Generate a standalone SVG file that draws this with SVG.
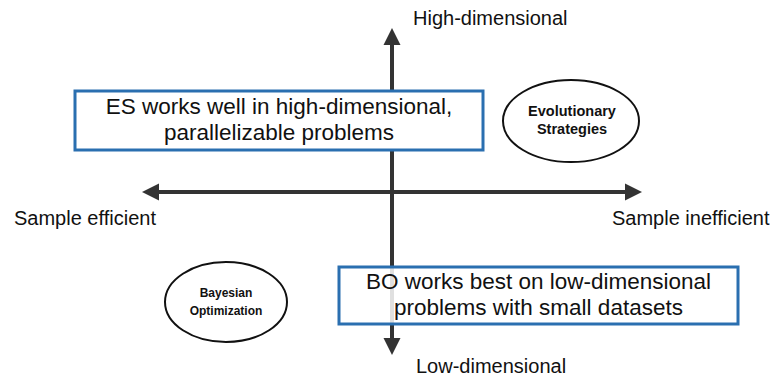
<svg xmlns="http://www.w3.org/2000/svg" width="771" height="383" viewBox="0 0 771 383">
<style>
.axis{stroke:#333;stroke-width:4;fill:none}
.head{fill:#333}
.lbl{font-family:"Liberation Sans",Arial,sans-serif;font-size:20px;fill:#111}
.box{fill:#fff;stroke:#2a6fb0;stroke-width:3}
.btxt{font-family:"Liberation Sans",Arial,sans-serif;font-size:22.5px;fill:#111;text-anchor:middle}
.ell{fill:#fff;stroke:#111;stroke-width:2}
.etxt{font-family:"Liberation Sans",Arial,sans-serif;font-weight:bold;fill:#111;text-anchor:middle}
</style>
<rect width="771" height="383" fill="#fff"/>
<g id="connectors">
<line class="axis" x1="392" y1="42" x2="392" y2="342"/>
<polygon class="head" points="392,28 383.5,45 400.5,45"/>
<polygon class="head" points="392,355 383.5,338 400.5,338"/>
<line class="axis" x1="156" y1="192" x2="628" y2="192"/>
<polygon class="head" points="142,192 159,183.5 159,200.5"/>
<polygon class="head" points="642,192 625,183.5 625,200.5"/>
</g>
<g id="label-high"><text class="lbl" x="413" y="25">High-dimensional</text></g>
<g id="label-low"><text class="lbl" x="416" y="373">Low-dimensional</text></g>
<g id="label-efficient"><text class="lbl" x="14" y="225">Sample efficient</text></g>
<g id="label-inefficient"><text class="lbl" x="612" y="225">Sample inefficient</text></g>
<g id="es-box">
<rect class="box" x="75" y="91" width="408" height="59"/>
<text class="btxt" x="279" y="114">ES works well in high-dimensional,</text>
<text class="btxt" x="279" y="140">parallelizable problems</text>
</g>
<g id="bo-box">
<rect class="box" x="339" y="267" width="399" height="57" fill-opacity="0.85"/>
<text class="btxt" x="538.5" y="289">BO works best on low-dimensional</text>
<text class="btxt" x="538.5" y="315">problems with small datasets</text>
</g>
<g id="es-ellipse">
<ellipse class="ell" cx="571" cy="121" rx="68" ry="41"/>
<text class="etxt" x="572" y="116" font-size="14.5">Evolutionary</text>
<text class="etxt" x="572" y="134" font-size="14.5">Strategies</text>
</g>
<g id="bo-ellipse">
<ellipse class="ell" cx="226" cy="302" rx="61" ry="40"/>
<text class="etxt" x="226" y="297" font-size="12">Bayesian</text>
<text class="etxt" x="226" y="315" font-size="12">Optimization</text>
</g>
</svg>
